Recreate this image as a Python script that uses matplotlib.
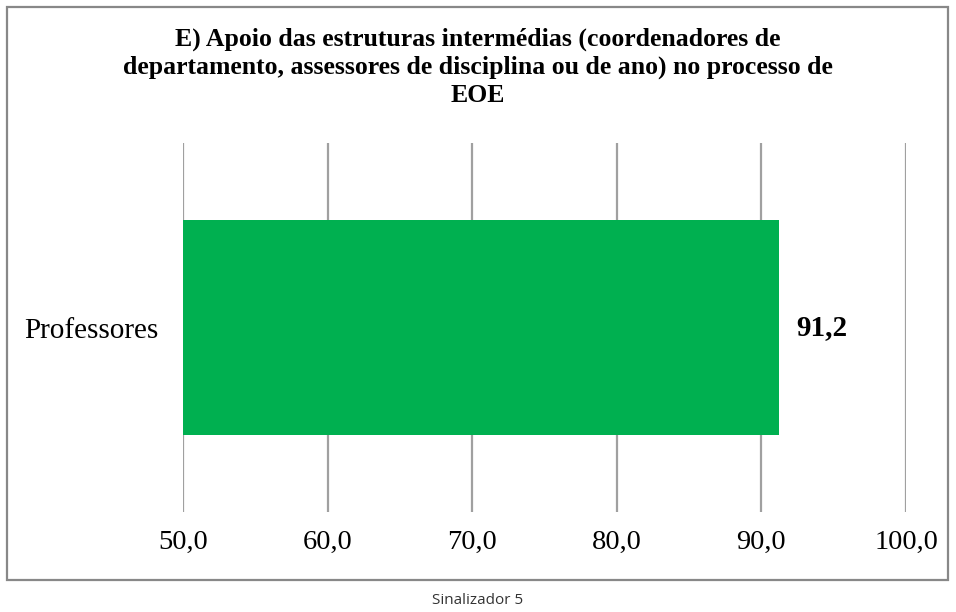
import matplotlib
matplotlib.use("Agg")
import matplotlib.pyplot as plt
import matplotlib.patches as mpatches
from matplotlib.ticker import FuncFormatter

# ── Data ──────────────────────────────────────────────────────────────────────
categories = ["Professores"]
values = [91.2]
x_ticks = [50, 60, 70, 80, 90, 100]
title = ("E) Apoio das estruturas intermédias (coordenadores de\n"
         "departamento, assessores de disciplina ou de ano) no processo de\n"
         "EOE")
caption = "Sinalizador 5"

BAR_COLOR = "#00B050"
GRID_COLOR = "#A0A0A0"
FRAME_COLOR = "#888888"
SERIF = ["Liberation Serif", "DejaVu Serif"]

W, H = 956, 612
fig = plt.figure(figsize=(W / 100, H / 100), dpi=100)
fig.patch.set_facecolor("white")

# chart area frame
frame = mpatches.Rectangle((7 / W, 1 - 580 / H), (948 - 7) / W, (580 - 7) / H,
                           transform=fig.transFigure, fill=False,
                           edgecolor=FRAME_COLOR, linewidth=1.6)
fig.add_artist(frame)

ax = fig.add_axes([183 / W, 1 - 512 / H, (906 - 183) / W, (512 - 143) / H])
ax.barh(range(len(categories)), [v - x_ticks[0] for v in values],
        left=x_ticks[0], height=0.585, color=BAR_COLOR, zorder=3)

ax.set_xlim(x_ticks[0], x_ticks[-1])
ax.set_ylim(-0.5, 0.5)
ax.set_xticks(x_ticks)
ax.xaxis.set_major_formatter(FuncFormatter(lambda v, p: f"{v:.1f}".replace(".", ",")))
ax.set_yticks(range(len(categories)))
ax.set_yticklabels(categories)
ax.tick_params(axis="x", length=0, pad=13, labelsize=20.5)
ax.tick_params(axis="y", length=0, pad=18, labelsize=21)
for lbl in ax.get_xticklabels() + ax.get_yticklabels():
    lbl.set_family(SERIF)

ax.grid(axis="x", color=GRID_COLOR, linewidth=1.6, zorder=0)
for spine in ax.spines.values():
    spine.set_visible(False)

for i, v in enumerate(values):
    ax.text(v + 1.2, i, f"{v:.1f}".replace(".", ","), ha="left", va="center",
            fontsize=21, fontweight="bold", family=SERIF)

fig.text(0.5, 1 - 67 / H, title, ha="center", va="center", fontsize=18.5,
         fontweight="bold", family=SERIF, linespacing=1.27)
fig.text(0.5, 1 - 601 / H, caption, ha="center", va="center", fontsize=11,
         family=["Open Sans", "DejaVu Sans"], color="#333333")

fig.savefig("out.png", dpi=100, facecolor="white")
